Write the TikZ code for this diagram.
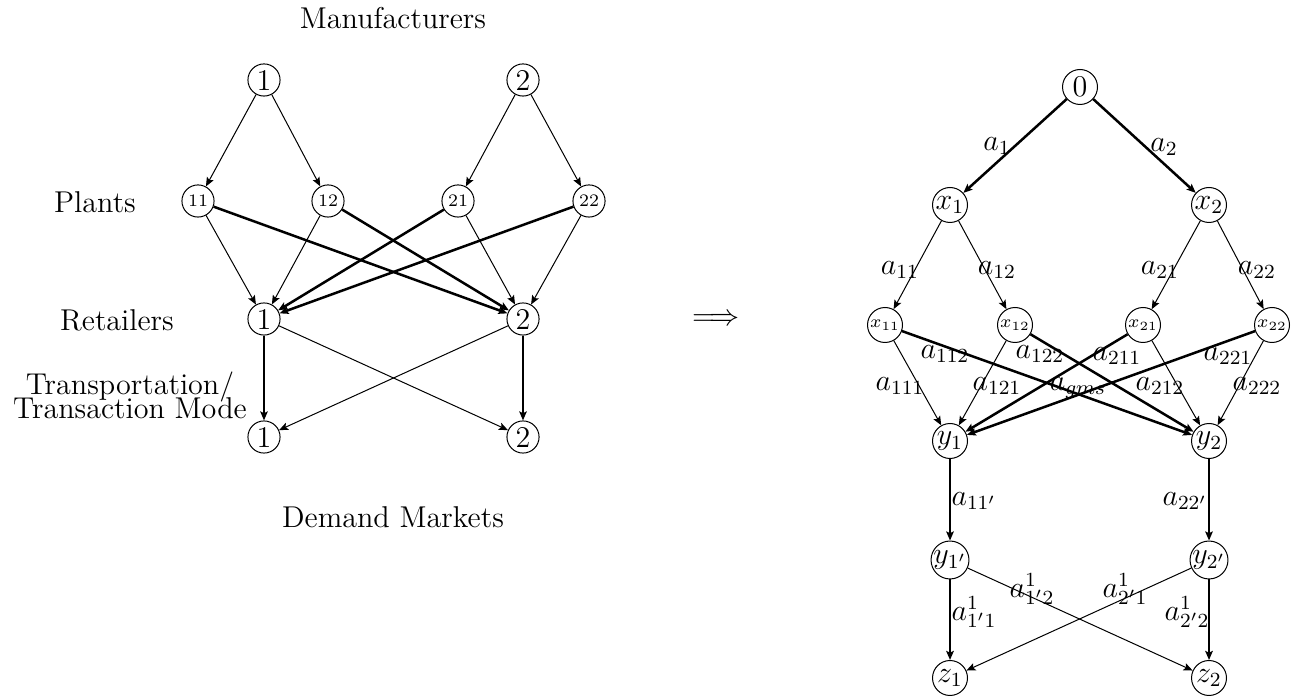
\documentclass[tikz,border=0pt]{standalone}
\usepackage{tikz}
\usetikzlibrary{positioning, arrows.meta}

\begin{document}
\begin{tikzpicture}[
  x=0.014cm, y=-0.014cm,
  every node/.style={font=\large},
  st/.style={draw, circle, minimum size=0.45cm, inner sep=0pt},
  pl/.style={st, font=\scriptsize},
  rt/.style={draw, circle, minimum size=0.49cm, inner sep=0pt},
  rs/.style={rt, font=\scriptsize},
  lbl/.style={inner sep=1pt},
  arr/.style={-{Stealth[length=3.6pt, width=3pt, inset=0.7pt]}},
  thk/.style={arr, line width=1pt}
]
  \useasboundingbox (0,0) rectangle (1293,698);

  % ===== SUPPLY CHAIN =====
  \node (tman) at (393,18) {Manufacturers};
  \node (tpl) at (95,202) {Plants};
  \node (tret) at (117,320) {Retailers};
  \node[align=center, inner sep=0pt] (tmode) at (130,395) {Transportation/\\[-4.5pt]Transaction Mode};
  \node (tdem) at (393,517) {Demand Markets};

  % manufacturers
  \node[st] (m1) at (264,80) {1};
  \node[st] (m2) at (523,80) {2};

  % plants
  \node[pl] (p11) at (198,201) {11};
  \node[pl] (p12) at (328,201) {12};
  \node[pl] (p21) at (458,201) {21};
  \node[pl] (p22) at (589,201) {22};

  % retailers
  \node[st] (r1) at (264,319) {1};
  \node[st] (r2) at (523,319) {2};

  % demand markets
  \node[st] (d1) at (264,437) {1};
  \node[st] (d2) at (523,437) {2};

  \draw[arr] (m1) -- (p11);
  \draw[arr] (m1) -- (p12);
  \draw[arr] (m2) -- (p21);
  \draw[arr] (m2) -- (p22);
  \draw[arr] (p11) -- (r1);
  \draw[thk] (p11) -- (r2);
  \draw[arr] (p12) -- (r1);
  \draw[thk] (p12) -- (r2);
  \draw[thk] (p21) -- (r1);
  \draw[arr] (p21) -- (r2);
  \draw[thk] (p22) -- (r1);
  \draw[arr] (p22) -- (r2);
  \draw[thk] (r1) -- (d1);
  \draw[arr] (r1) -- (d2);
  \draw[arr] (r2) -- (d1);
  \draw[thk] (r2) -- (d2);

  \node (imp) at (716,320) {$\Longrightarrow$};

  % ===== NETWORK =====
  \node[rt] (o) at (1080,87) {0};
  \node[rt] (x1) at (950,205) {$x_1$};
  \node[rt] (x2) at (1209,205) {$x_2$};
  \node[rs] (x11) at (885,325) {$x_{11}$};
  \node[rs] (x12) at (1015,325) {$x_{12}$};
  \node[rs] (x21) at (1143,325) {$x_{21}$};
  \node[rs] (x22) at (1272,325) {$x_{22}$};
  \node[rt] (y1) at (950,441) {$y_1$};
  \node[rt] (y2) at (1209,441) {$y_2$};
  \node[rt] (y1p) at (950,560) {$y_{1'}$};
  \node[rt] (y2p) at (1209,560) {$y_{2'}$};
  \node[rt] (z1) at (950,678) {$z_1$};
  \node[rt] (z2) at (1209,678) {$z_2$};

  \draw[thk] (o) -- (x1);
  \draw[thk] (o) -- (x2);
  \draw[arr] (x1) -- (x11);
  \draw[arr] (x1) -- (x12);
  \draw[arr] (x2) -- (x21);
  \draw[arr] (x2) -- (x22);
  \draw[arr] (x11) -- (y1);
  \draw[thk] (x11) -- (y2);
  \draw[arr] (x12) -- (y1);
  \draw[thk] (x12) -- (y2);
  \draw[thk] (x21) -- (y1);
  \draw[arr] (x21) -- (y2);
  \draw[thk] (x22) -- (y1);
  \draw[arr] (x22) -- (y2);
  \draw[thk] (y1) -- (y1p);
  \draw[thk] (y2) -- (y2p);
  \draw[thk] (y1p) -- (z1);
  \draw[arr] (y1p) -- (z2);
  \draw[arr] (y2p) -- (z1);
  \draw[thk] (y2p) -- (z2);

  % link labels
  \node[lbl] (la1) at (997,146) {$a_1$};
  \node[lbl] (la2) at (1164,147) {$a_2$};
  \node[lbl] (la11) at (900,270) {$a_{11}$};
  \node[lbl] (la12) at (997,270) {$a_{12}$};
  \node[lbl] (la21) at (1160,270) {$a_{21}$};
  \node[lbl] (la22) at (1257,270) {$a_{22}$};
  \node[lbl] (la112) at (945,354) {$a_{112}$};
  \node[lbl] (la122) at (1040,354) {$a_{122}$};
  \node[lbl] (la211) at (1117,356) {$a_{211}$};
  \node[lbl] (la221) at (1228,356) {$a_{221}$};
  \node[lbl] (la111) at (900,386) {$a_{111}$};
  \node[lbl] (la121) at (997,386) {$a_{121}$};
  \node[lbl] (lagms) at (1078,388) {$a_{gms}$};
  \node[lbl] (la212) at (1160,386) {$a_{212}$};
  \node[lbl] (la222) at (1257,386) {$a_{222}$};
  \node[lbl] (la11p) at (974,501) {$a_{11'}$};
  \node[lbl] (la22p) at (1185,501) {$a_{22'}$};
  \node[lbl] (lb12) at (1032,589) {$a^1_{1'2}$};
  \node[lbl] (lb21) at (1125,589) {$a^1_{2'1}$};
  \node[lbl] (lb11) at (974,612) {$a^1_{1'1}$};
  \node[lbl] (lb22) at (1187,612) {$a^1_{2'2}$};
\end{tikzpicture}
\end{document}
